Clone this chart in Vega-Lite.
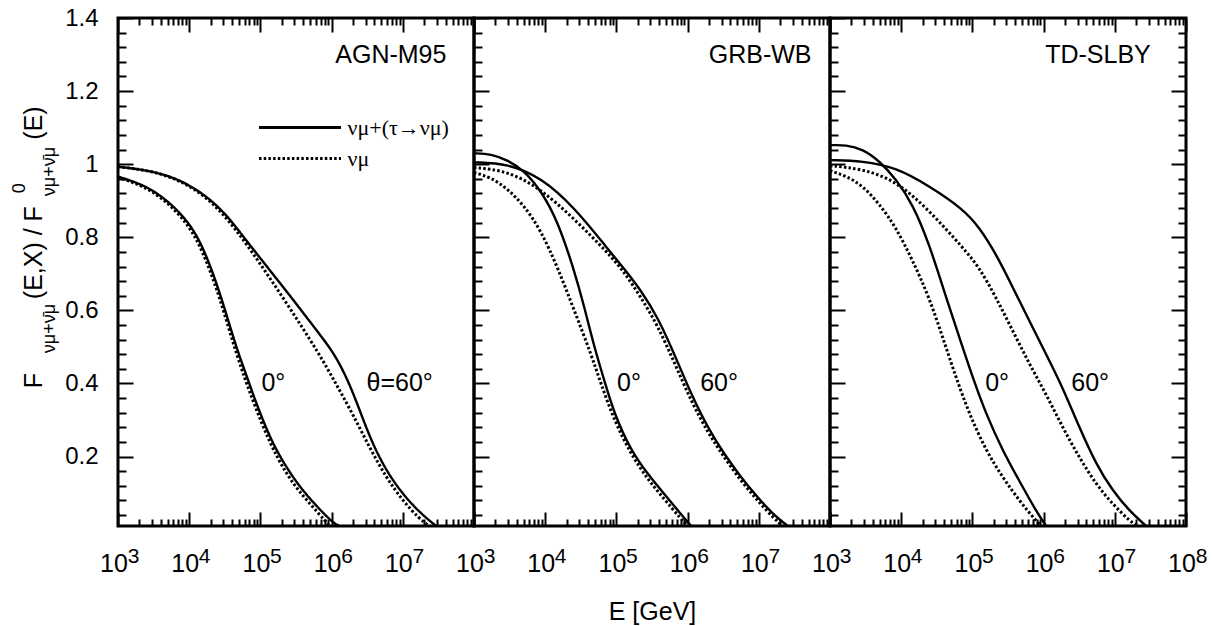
{
"$schema":"https://vega.github.io/schema/vega-lite/v6.json",
"background":"white",
"padding":{"left":9,"top":4,"right":0,"bottom":0},
"bounds":"flush",
"spacing":0,
"config":{
 "font":"Liberation Sans",
 "view":{"stroke":"black","strokeWidth":3},
 "axis":{"grid":false,"domain":false,"tickColor":"black","tickWidth":2,"labelColor":"black","titleColor":"black","labelFont":"Liberation Sans","titleFont":"Liberation Sans","titleFontWeight":"normal","labelFlush":false,"labelOverlap":false,"labelBound":false}
},
"datasets":{
"curves":[
{"panel":"AGN-M95","angle":"60","flux":"νμ+(τ→νμ)","E":1000,"F":0.993},
{"panel":"AGN-M95","angle":"60","flux":"νμ+(τ→νμ)","E":3083,"F":0.982},
{"panel":"AGN-M95","angle":"60","flux":"νμ+(τ→νμ)","E":9057,"F":0.952},
{"panel":"AGN-M95","angle":"60","flux":"νμ+(τ→νμ)","E":26610,"F":0.886},
{"panel":"AGN-M95","angle":"60","flux":"νμ+(τ→νμ)","E":55980,"F":0.805},
{"panel":"AGN-M95","angle":"60","flux":"νμ+(τ→νμ)","E":100000,"F":0.742},
{"panel":"AGN-M95","angle":"60","flux":"νμ+(τ→νμ)","E":230100,"F":0.654},
{"panel":"AGN-M95","angle":"60","flux":"νμ+(τ→νμ)","E":676100,"F":0.535},
{"panel":"AGN-M95","angle":"60","flux":"νμ+(τ→νμ)","E":1159000,"F":0.475},
{"panel":"AGN-M95","angle":"60","flux":"νμ+(τ→νμ)","E":1986000,"F":0.380},
{"panel":"AGN-M95","angle":"60","flux":"νμ+(τ→νμ)","E":3404000,"F":0.252},
{"panel":"AGN-M95","angle":"60","flux":"νμ+(τ→νμ)","E":5834000,"F":0.161},
{"panel":"AGN-M95","angle":"60","flux":"νμ+(τ→νμ)","E":10000000,"F":0.097},
{"panel":"AGN-M95","angle":"60","flux":"νμ+(τ→νμ)","E":17180000,"F":0.047},
{"panel":"AGN-M95","angle":"60","flux":"νμ+(τ→νμ)","E":29440000,"F":0.010},
{"panel":"AGN-M95","angle":"60","flux":"νμ","E":1000,"F":0.993},
{"panel":"AGN-M95","angle":"60","flux":"νμ","E":3083,"F":0.982},
{"panel":"AGN-M95","angle":"60","flux":"νμ","E":9057,"F":0.950},
{"panel":"AGN-M95","angle":"60","flux":"νμ","E":26610,"F":0.882},
{"panel":"AGN-M95","angle":"60","flux":"νμ","E":78340,"F":0.758},
{"panel":"AGN-M95","angle":"60","flux":"νμ","E":230100,"F":0.622},
{"panel":"AGN-M95","angle":"60","flux":"νμ","E":676100,"F":0.480},
{"panel":"AGN-M95","angle":"60","flux":"νμ","E":1159000,"F":0.398},
{"panel":"AGN-M95","angle":"60","flux":"νμ","E":1986000,"F":0.316},
{"panel":"AGN-M95","angle":"60","flux":"νμ","E":3404000,"F":0.225},
{"panel":"AGN-M95","angle":"60","flux":"νμ","E":5834000,"F":0.143},
{"panel":"AGN-M95","angle":"60","flux":"νμ","E":10000000,"F":0.079},
{"panel":"AGN-M95","angle":"60","flux":"νμ","E":17180000,"F":0.029},
{"panel":"AGN-M95","angle":"60","flux":"νμ","E":23710000,"F":0.010},
{"panel":"AGN-M95","angle":"0","flux":"νμ+(τ→νμ)","E":1000,"F":0.966},
{"panel":"AGN-M95","angle":"0","flux":"νμ+(τ→νμ)","E":3083,"F":0.936},
{"panel":"AGN-M95","angle":"0","flux":"νμ+(τ→νμ)","E":9057,"F":0.854},
{"panel":"AGN-M95","angle":"0","flux":"νμ+(τ→νμ)","E":15520,"F":0.777},
{"panel":"AGN-M95","angle":"0","flux":"νμ+(τ→νμ)","E":26610,"F":0.654},
{"panel":"AGN-M95","angle":"0","flux":"νμ+(τ→νμ)","E":45710,"F":0.498},
{"panel":"AGN-M95","angle":"0","flux":"νμ+(τ→νμ)","E":63100,"F":0.425},
{"panel":"AGN-M95","angle":"0","flux":"νμ+(τ→νμ)","E":78340,"F":0.371},
{"panel":"AGN-M95","angle":"0","flux":"νμ+(τ→νμ)","E":134300,"F":0.252},
{"panel":"AGN-M95","angle":"0","flux":"νμ+(τ→νμ)","E":230100,"F":0.170},
{"panel":"AGN-M95","angle":"0","flux":"νμ+(τ→νμ)","E":394500,"F":0.106},
{"panel":"AGN-M95","angle":"0","flux":"νμ+(τ→νμ)","E":676100,"F":0.056},
{"panel":"AGN-M95","angle":"0","flux":"νμ+(τ→νμ)","E":1040000,"F":0.019},
{"panel":"AGN-M95","angle":"0","flux":"νμ+(τ→νμ)","E":1291000,"F":0.010},
{"panel":"AGN-M95","angle":"0","flux":"νμ","E":1000,"F":0.964},
{"panel":"AGN-M95","angle":"0","flux":"νμ","E":3083,"F":0.932},
{"panel":"AGN-M95","angle":"0","flux":"νμ","E":9057,"F":0.847},
{"panel":"AGN-M95","angle":"0","flux":"νμ","E":15520,"F":0.763},
{"panel":"AGN-M95","angle":"0","flux":"νμ","E":26610,"F":0.640},
{"panel":"AGN-M95","angle":"0","flux":"νμ","E":45710,"F":0.480},
{"panel":"AGN-M95","angle":"0","flux":"νμ","E":78340,"F":0.352},
{"panel":"AGN-M95","angle":"0","flux":"νμ","E":134300,"F":0.238},
{"panel":"AGN-M95","angle":"0","flux":"νμ","E":230100,"F":0.152},
{"panel":"AGN-M95","angle":"0","flux":"νμ","E":394500,"F":0.092},
{"panel":"AGN-M95","angle":"0","flux":"νμ","E":676100,"F":0.042},
{"panel":"AGN-M95","angle":"0","flux":"νμ","E":933300,"F":0.010},
{"panel":"GRB-WB","angle":"0","flux":"νμ+(τ→νμ)","E":1000,"F":1.030},
{"panel":"GRB-WB","angle":"0","flux":"νμ+(τ→νμ)","E":1738,"F":1.028},
{"panel":"GRB-WB","angle":"0","flux":"νμ+(τ→νμ)","E":2978,"F":1.011},
{"panel":"GRB-WB","angle":"0","flux":"νμ+(τ→νμ)","E":5104,"F":0.982},
{"panel":"GRB-WB","angle":"0","flux":"νμ+(τ→νμ)","E":8749,"F":0.927},
{"panel":"GRB-WB","angle":"0","flux":"νμ+(τ→νμ)","E":14990,"F":0.845},
{"panel":"GRB-WB","angle":"0","flux":"νμ+(τ→νμ)","E":25710,"F":0.708},
{"panel":"GRB-WB","angle":"0","flux":"νμ+(τ→νμ)","E":35560,"F":0.608},
{"panel":"GRB-WB","angle":"0","flux":"νμ+(τ→νμ)","E":49090,"F":0.498},
{"panel":"GRB-WB","angle":"0","flux":"νμ+(τ→νμ)","E":67920,"F":0.407},
{"panel":"GRB-WB","angle":"0","flux":"νμ+(τ→νμ)","E":93750,"F":0.316},
{"panel":"GRB-WB","angle":"0","flux":"νμ+(τ→νμ)","E":160600,"F":0.216},
{"panel":"GRB-WB","angle":"0","flux":"νμ+(τ→νμ)","E":275400,"F":0.152},
{"panel":"GRB-WB","angle":"0","flux":"νμ+(τ→νμ)","E":472100,"F":0.097},
{"panel":"GRB-WB","angle":"0","flux":"νμ+(τ→νμ)","E":811000,"F":0.042},
{"panel":"GRB-WB","angle":"0","flux":"νμ+(τ→νμ)","E":1120000,"F":0.010},
{"panel":"GRB-WB","angle":"0","flux":"νμ","E":1000,"F":0.977},
{"panel":"GRB-WB","angle":"0","flux":"νμ","E":1738,"F":0.964},
{"panel":"GRB-WB","angle":"0","flux":"νμ","E":2978,"F":0.932},
{"panel":"GRB-WB","angle":"0","flux":"νμ","E":5104,"F":0.886},
{"panel":"GRB-WB","angle":"0","flux":"νμ","E":8749,"F":0.818},
{"panel":"GRB-WB","angle":"0","flux":"νμ","E":14990,"F":0.717},
{"panel":"GRB-WB","angle":"0","flux":"νμ","E":25710,"F":0.599},
{"panel":"GRB-WB","angle":"0","flux":"νμ","E":44160,"F":0.480},
{"panel":"GRB-WB","angle":"0","flux":"νμ","E":60950,"F":0.398},
{"panel":"GRB-WB","angle":"0","flux":"νμ","E":93750,"F":0.298},
{"panel":"GRB-WB","angle":"0","flux":"νμ","E":160600,"F":0.206},
{"panel":"GRB-WB","angle":"0","flux":"νμ","E":275400,"F":0.138},
{"panel":"GRB-WB","angle":"0","flux":"νμ","E":472100,"F":0.083},
{"panel":"GRB-WB","angle":"0","flux":"νμ","E":811000,"F":0.029},
{"panel":"GRB-WB","angle":"0","flux":"νμ","E":1005000,"F":0.010},
{"panel":"GRB-WB","angle":"60","flux":"νμ+(τ→νμ)","E":1000,"F":1.005},
{"panel":"GRB-WB","angle":"60","flux":"νμ+(τ→νμ)","E":2978,"F":1.002},
{"panel":"GRB-WB","angle":"60","flux":"νμ+(τ→νμ)","E":8749,"F":0.964},
{"panel":"GRB-WB","angle":"60","flux":"νμ+(τ→νμ)","E":25710,"F":0.882},
{"panel":"GRB-WB","angle":"60","flux":"νμ+(τ→νμ)","E":75680,"F":0.768},
{"panel":"GRB-WB","angle":"60","flux":"νμ+(τ→νμ)","E":129700,"F":0.713},
{"panel":"GRB-WB","angle":"60","flux":"νμ+(τ→νμ)","E":222300,"F":0.654},
{"panel":"GRB-WB","angle":"60","flux":"νμ+(τ→νμ)","E":381100,"F":0.581},
{"panel":"GRB-WB","angle":"60","flux":"νμ+(τ→νμ)","E":653100,"F":0.480},
{"panel":"GRB-WB","angle":"60","flux":"νμ+(τ→νμ)","E":1120000,"F":0.371},
{"panel":"GRB-WB","angle":"60","flux":"νμ+(τ→νμ)","E":1918000,"F":0.279},
{"panel":"GRB-WB","angle":"60","flux":"νμ+(τ→νμ)","E":3288000,"F":0.206},
{"panel":"GRB-WB","angle":"60","flux":"νμ+(τ→νμ)","E":5636000,"F":0.143},
{"panel":"GRB-WB","angle":"60","flux":"νμ+(τ→νμ)","E":9660000,"F":0.088},
{"panel":"GRB-WB","angle":"60","flux":"νμ+(τ→νμ)","E":16600000,"F":0.038},
{"panel":"GRB-WB","angle":"60","flux":"νμ+(τ→νμ)","E":25520000,"F":0.010},
{"panel":"GRB-WB","angle":"60","flux":"νμ","E":1000,"F":0.991},
{"panel":"GRB-WB","angle":"60","flux":"νμ","E":2978,"F":0.982},
{"panel":"GRB-WB","angle":"60","flux":"νμ","E":8749,"F":0.932},
{"panel":"GRB-WB","angle":"60","flux":"νμ","E":25710,"F":0.850},
{"panel":"GRB-WB","angle":"60","flux":"νμ","E":75680,"F":0.758},
{"panel":"GRB-WB","angle":"60","flux":"νμ","E":129700,"F":0.704},
{"panel":"GRB-WB","angle":"60","flux":"νμ","E":222300,"F":0.635},
{"panel":"GRB-WB","angle":"60","flux":"νμ","E":381100,"F":0.558},
{"panel":"GRB-WB","angle":"60","flux":"νμ","E":653100,"F":0.457},
{"panel":"GRB-WB","angle":"60","flux":"νμ","E":1120000,"F":0.352},
{"panel":"GRB-WB","angle":"60","flux":"νμ","E":1918000,"F":0.266},
{"panel":"GRB-WB","angle":"60","flux":"νμ","E":3288000,"F":0.197},
{"panel":"GRB-WB","angle":"60","flux":"νμ","E":5636000,"F":0.133},
{"panel":"GRB-WB","angle":"60","flux":"νμ","E":9660000,"F":0.079},
{"panel":"GRB-WB","angle":"60","flux":"νμ","E":16600000,"F":0.029},
{"panel":"GRB-WB","angle":"60","flux":"νμ","E":21730000,"F":0.010},
{"panel":"TD-SLBY","angle":"0","flux":"νμ+(τ→νμ)","E":1000,"F":1.052},
{"panel":"TD-SLBY","angle":"0","flux":"νμ+(τ→νμ)","E":1682,"F":1.053},
{"panel":"TD-SLBY","angle":"0","flux":"νμ+(τ→νμ)","E":2883,"F":1.041},
{"panel":"TD-SLBY","angle":"0","flux":"νμ+(τ→νμ)","E":4941,"F":1.009},
{"panel":"TD-SLBY","angle":"0","flux":"νμ+(τ→νμ)","E":8468,"F":0.959},
{"panel":"TD-SLBY","angle":"0","flux":"νμ+(τ→νμ)","E":14510,"F":0.891},
{"panel":"TD-SLBY","angle":"0","flux":"νμ+(τ→νμ)","E":24880,"F":0.781},
{"panel":"TD-SLBY","angle":"0","flux":"νμ+(τ→νμ)","E":42740,"F":0.635},
{"panel":"TD-SLBY","angle":"0","flux":"νμ+(τ→νμ)","E":73250,"F":0.498},
{"panel":"TD-SLBY","angle":"0","flux":"νμ+(τ→νμ)","E":101100,"F":0.416},
{"panel":"TD-SLBY","angle":"0","flux":"νμ+(τ→νμ)","E":155500,"F":0.316},
{"panel":"TD-SLBY","angle":"0","flux":"νμ+(τ→νμ)","E":266600,"F":0.216},
{"panel":"TD-SLBY","angle":"0","flux":"νμ+(τ→νμ)","E":456900,"F":0.133},
{"panel":"TD-SLBY","angle":"0","flux":"νμ+(τ→νμ)","E":784900,"F":0.051},
{"panel":"TD-SLBY","angle":"0","flux":"νμ+(τ→νμ)","E":1084000,"F":0.010},
{"panel":"TD-SLBY","angle":"0","flux":"νμ","E":1000,"F":0.982},
{"panel":"TD-SLBY","angle":"0","flux":"νμ","E":1682,"F":0.968},
{"panel":"TD-SLBY","angle":"0","flux":"νμ","E":2883,"F":0.941},
{"panel":"TD-SLBY","angle":"0","flux":"νμ","E":4941,"F":0.891},
{"panel":"TD-SLBY","angle":"0","flux":"νμ","E":8468,"F":0.827},
{"panel":"TD-SLBY","angle":"0","flux":"νμ","E":14510,"F":0.736},
{"panel":"TD-SLBY","angle":"0","flux":"νμ","E":24880,"F":0.635},
{"panel":"TD-SLBY","angle":"0","flux":"νμ","E":42740,"F":0.498},
{"panel":"TD-SLBY","angle":"0","flux":"νμ","E":59000,"F":0.416},
{"panel":"TD-SLBY","angle":"0","flux":"νμ","E":90740,"F":0.316},
{"panel":"TD-SLBY","angle":"0","flux":"νμ","E":155500,"F":0.216},
{"panel":"TD-SLBY","angle":"0","flux":"νμ","E":266600,"F":0.143},
{"panel":"TD-SLBY","angle":"0","flux":"νμ","E":456900,"F":0.079},
{"panel":"TD-SLBY","angle":"0","flux":"νμ","E":784900,"F":0.024},
{"panel":"TD-SLBY","angle":"0","flux":"νμ","E":922200,"F":0.010},
{"panel":"TD-SLBY","angle":"60","flux":"νμ+(τ→νμ)","E":1000,"F":1.011},
{"panel":"TD-SLBY","angle":"60","flux":"νμ+(τ→νμ)","E":2883,"F":1.009},
{"panel":"TD-SLBY","angle":"60","flux":"νμ+(τ→νμ)","E":8468,"F":0.991},
{"panel":"TD-SLBY","angle":"60","flux":"νμ+(τ→νμ)","E":24880,"F":0.940},
{"panel":"TD-SLBY","angle":"60","flux":"νμ+(τ→νμ)","E":73250,"F":0.878},
{"panel":"TD-SLBY","angle":"60","flux":"νμ+(τ→νμ)","E":125600,"F":0.827},
{"panel":"TD-SLBY","angle":"60","flux":"νμ+(τ→νμ)","E":215100,"F":0.754},
{"panel":"TD-SLBY","angle":"60","flux":"νμ+(τ→νμ)","E":368900,"F":0.663},
{"panel":"TD-SLBY","angle":"60","flux":"νμ+(τ→νμ)","E":632200,"F":0.571},
{"panel":"TD-SLBY","angle":"60","flux":"νμ+(τ→νμ)","E":1084000,"F":0.480},
{"panel":"TD-SLBY","angle":"60","flux":"νμ+(τ→νμ)","E":1857000,"F":0.389},
{"panel":"TD-SLBY","angle":"60","flux":"νμ+(τ→νμ)","E":3183000,"F":0.279},
{"panel":"TD-SLBY","angle":"60","flux":"νμ+(τ→νμ)","E":5455000,"F":0.179},
{"panel":"TD-SLBY","angle":"60","flux":"νμ+(τ→νμ)","E":9350000,"F":0.106},
{"panel":"TD-SLBY","angle":"60","flux":"νμ+(τ→νμ)","E":16060000,"F":0.051},
{"panel":"TD-SLBY","angle":"60","flux":"νμ+(τ→νμ)","E":27530000,"F":0.010},
{"panel":"TD-SLBY","angle":"60","flux":"νμ","E":1000,"F":0.996},
{"panel":"TD-SLBY","angle":"60","flux":"νμ","E":2883,"F":0.987},
{"panel":"TD-SLBY","angle":"60","flux":"νμ","E":8468,"F":0.955},
{"panel":"TD-SLBY","angle":"60","flux":"νμ","E":24880,"F":0.873},
{"panel":"TD-SLBY","angle":"60","flux":"νμ","E":73250,"F":0.772},
{"panel":"TD-SLBY","angle":"60","flux":"νμ","E":125600,"F":0.717},
{"panel":"TD-SLBY","angle":"60","flux":"νμ","E":215100,"F":0.635},
{"panel":"TD-SLBY","angle":"60","flux":"νμ","E":368900,"F":0.544},
{"panel":"TD-SLBY","angle":"60","flux":"νμ","E":632200,"F":0.453},
{"panel":"TD-SLBY","angle":"60","flux":"νμ","E":1084000,"F":0.371},
{"panel":"TD-SLBY","angle":"60","flux":"νμ","E":1857000,"F":0.279},
{"panel":"TD-SLBY","angle":"60","flux":"νμ","E":3183000,"F":0.197},
{"panel":"TD-SLBY","angle":"60","flux":"νμ","E":5455000,"F":0.124},
{"panel":"TD-SLBY","angle":"60","flux":"νμ","E":9350000,"F":0.070},
{"panel":"TD-SLBY","angle":"60","flux":"νμ","E":16060000,"F":0.024},
{"panel":"TD-SLBY","angle":"60","flux":"νμ","E":21030000,"F":0.010}
],
"labels":[
{"panel":"AGN-M95","role":"zero","text":"0°","E":103500,"F":0.4},
{"panel":"AGN-M95","role":"sixty","text":"θ=60°","E":3090000,"F":0.4},
{"panel":"AGN-M95","role":"name","text":"AGN-M95","E":41000000,"F":1.278},
{"panel":"GRB-WB","role":"zero","text":"0°","E":102000,"F":0.4},
{"panel":"GRB-WB","role":"sixty","text":"60°","E":1500000,"F":0.4},
{"panel":"GRB-WB","role":"name","text":"GRB-WB","E":55000000,"F":1.278},
{"panel":"TD-SLBY","role":"zero","text":"0°","E":151000,"F":0.4},
{"panel":"TD-SLBY","role":"sixty","text":"60°","E":2450000,"F":0.4},
{"panel":"TD-SLBY","role":"name","text":"TD-SLBY","E":32000000,"F":1.278}
]
},
"hconcat":[
{
 "width":356,"height":508,
 "resolve":{"axis":{"x":"independent","y":"independent"}},
 "layer":[
  {"data":{"name":"curves"},"transform":[{"filter":"datum.panel==='AGN-M95'&&datum.angle==='0'&&datum.flux!=='νμ'"}],
   "mark":{"type":"line","interpolate":"basis","strokeWidth":2.4,"color":"black"},
   "encoding":{
    "x":{"field":"E","type":"quantitative","scale":{"type":"log","domain":[1000,100000000],"nice":false},
      "axis":{"orient":"bottom","values":[1000,10000,100000,1000000,10000000],"ticks":false,"labelExpr":"'10'","labelFontSize":25,"labelBaseline":"alphabetic","labelPadding":45,"labelOffset":-4.5,"title":null}},
    "y":{"field":"F","type":"quantitative","scale":{"domain":[0.01,1.4],"nice":false,"zero":false},
      "axis":{"orient":"left","values":[0.2,0.4,0.6,0.8,1,1.2,1.4],"ticks":false,"format":".1~f","labelFontSize":24,"labelPadding":20,
        "title":"F","titleFontSize":25,"titleAngle":-90,"titleAlign":"left","titleBaseline":"alphabetic","titleX":-76.8,"titleY":369.7}},
    "strokeDash":{"field":"flux","type":"nominal","scale":{"domain":["νμ+(τ→νμ)","νμ"],"range":[[1,0],[2.5,2.2]]},
      "legend":{"orient":"none","legendX":170.5,"legendY":98,"title":null,"padding":0,"symbolType":"M-4.1,0H4.1","symbolSize":400,"symbolStrokeWidth":3,"symbolStrokeColor":"black","symbolFillColor":"transparent","labelOffset":36,"labelFont":"Liberation Serif","labelFontSize":22,"labelColor":"black","rowPadding":8}}
   }},
  {"data":{"name":"curves"},"transform":[{"filter":"datum.panel==='AGN-M95'&&datum.angle==='60'&&datum.flux!=='νμ'"}],
   "mark":{"type":"line","interpolate":"basis","strokeWidth":2.4,"color":"black"},
   "encoding":{
    "x":{"field":"E","type":"quantitative","scale":{"type":"log","domain":[1000,100000000],"nice":false},
      "axis":{"orient":"bottom","values":[1000,10000,100000,1000000,10000000],"ticks":false,"labelExpr":"''+round(log(datum.value)/LN10)","labelFontSize":21,"labelBaseline":"alphabetic","labelPadding":36.5,"labelOffset":15,"title":null}},
    "y":{"field":"F","type":"quantitative","scale":{"domain":[0.01,1.4],"nice":false,"zero":false},
      "axis":{"orient":"left","values":[0.2,0.4,0.6,0.8,1,1.2,1.4],"tickSize":-15,"labels":false,
        "title":"νμ+ν̄μ","titleFontSize":18,"titleAngle":-90,"titleAlign":"left","titleBaseline":"alphabetic","titleX":-63.5,"titleY":334.7}},
    "strokeDash":{"field":"flux","type":"nominal"}
   }},
  {"data":{"name":"curves"},"transform":[{"filter":"datum.panel==='AGN-M95'&&datum.angle==='0'&&datum.flux==='νμ'"}],
   "mark":{"type":"line","interpolate":"basis","strokeWidth":3,"color":"black"},
   "encoding":{
    "x":{"field":"E","type":"quantitative","scale":{"type":"log","domain":[1000,100000000],"nice":false},
      "axis":{"orient":"bottom","values":[1000,10000,100000,1000000,10000000,100000000],"tickSize":-14,"labels":false,"title":null}},
    "y":{"field":"F","type":"quantitative","scale":{"domain":[0.01,1.4],"nice":false,"zero":false},
      "axis":{"orient":"left","values":[0.04,0.08,0.12,0.16,0.24,0.28,0.32,0.36,0.44,0.48,0.52,0.56,0.64,0.68,0.72,0.76,0.84,0.88,0.92,0.96,1.04,1.08,1.12,1.16,1.24,1.28,1.32,1.36],"tickSize":-8,"labels":false,
        "title":"(E,X)  /  F","titleFontSize":25,"titleAngle":-90,"titleAlign":"left","titleBaseline":"alphabetic","titleX":-76.8,"titleY":280.7}},
    "strokeDash":{"field":"flux","type":"nominal"}
   }},
  {"data":{"name":"curves"},"transform":[{"filter":"datum.panel==='AGN-M95'&&datum.angle==='60'&&datum.flux==='νμ'"}],
   "mark":{"type":"line","interpolate":"basis","strokeWidth":3,"color":"black"},
   "encoding":{
    "x":{"field":"E","type":"quantitative","scale":{"type":"log","domain":[1000,100000000],"nice":false},
      "axis":{"orient":"bottom","values":[2000,3000,4000,5000,6000,7000,8000,9000,20000,30000,40000,50000,60000,70000,80000,90000,200000,300000,400000,500000,600000,700000,800000,900000,2000000,3000000,4000000,5000000,6000000,7000000,8000000,9000000,20000000,30000000,40000000,50000000,60000000,70000000,80000000,90000000],"tickSize":-7,"labels":false,"title":null}},
    "y":{"field":"F","type":"quantitative","scale":{"domain":[0.01,1.4],"nice":false,"zero":false},
      "axis":{"orient":"left","ticks":false,"labels":false,
        "title":"0","titleFontSize":18,"titleAngle":-90,"titleAlign":"left","titleBaseline":"alphabetic","titleX":-93.5,"titleY":174.7}},
    "strokeDash":{"field":"flux","type":"nominal"}
   }},
  {"data":{"name":"labels"},"transform":[{"filter":"datum.panel==='AGN-M95'&&datum.role==='zero'"}],
   "mark":{"type":"text","align":"left","baseline":"middle","fontSize":25,"font":"Liberation Sans","color":"black"},
   "encoding":{
    "x":{"field":"E","type":"quantitative","scale":{"type":"log","domain":[1000,100000000],"nice":false},
      "axis":{"orient":"top","values":[1000,10000,100000,1000000,10000000,100000000],"tickSize":-14,"labels":false,"title":null}},
    "y":{"field":"F","type":"quantitative","scale":{"domain":[0.01,1.4],"nice":false,"zero":false},
      "axis":{"orient":"left","ticks":false,"labels":false,
        "title":"νμ+ν̄μ","titleFontSize":18,"titleAngle":-90,"titleAlign":"left","titleBaseline":"alphabetic","titleX":-63.5,"titleY":177.7}},
    "text":{"field":"text"}
   }},
  {"data":{"name":"labels"},"transform":[{"filter":"datum.panel==='AGN-M95'&&datum.role==='sixty'"}],
   "mark":{"type":"text","align":"left","baseline":"middle","fontSize":25,"font":"Liberation Sans","color":"black"},
   "encoding":{
    "x":{"field":"E","type":"quantitative","scale":{"type":"log","domain":[1000,100000000],"nice":false},
      "axis":{"orient":"top","values":[2000,3000,4000,5000,6000,7000,8000,9000,20000,30000,40000,50000,60000,70000,80000,90000,200000,300000,400000,500000,600000,700000,800000,900000,2000000,3000000,4000000,5000000,6000000,7000000,8000000,9000000,20000000,30000000,40000000,50000000,60000000,70000000,80000000,90000000],"tickSize":-7,"labels":false,"title":null}},
    "y":{"field":"F","type":"quantitative","scale":{"domain":[0.01,1.4],"nice":false,"zero":false},
      "axis":{"orient":"left","ticks":false,"labels":false,
        "title":"(E)","titleFontSize":25,"titleAngle":-90,"titleAlign":"left","titleBaseline":"alphabetic","titleX":-76.8,"titleY":121.2}},
    "text":{"field":"text"}
   }},
  {"data":{"name":"labels"},"transform":[{"filter":"datum.panel==='AGN-M95'&&datum.role==='name'"}],
   "mark":{"type":"text","align":"right","baseline":"alphabetic","fontSize":25,"font":"Liberation Sans","color":"black"},
   "encoding":{
    "x":{"field":"E","type":"quantitative","scale":{"type":"log","domain":[1000,100000000],"nice":false},"axis":null},
    "y":{"field":"F","type":"quantitative","scale":{"domain":[0.01,1.4],"nice":false,"zero":false},"axis":null},
    "text":{"field":"text"}
   }}
 ]
},
{
 "width":356,"height":508,
 "resolve":{"axis":{"x":"independent","y":"independent"}},
 "layer":[
  {"data":{"name":"curves"},"transform":[{"filter":"datum.panel==='GRB-WB'&&datum.angle==='0'&&datum.flux!=='νμ'"}],
   "mark":{"type":"line","interpolate":"basis","strokeWidth":2.4,"color":"black"},
   "encoding":{
    "x":{"field":"E","type":"quantitative","scale":{"type":"log","domain":[1000,100000000],"nice":false},
      "axis":{"orient":"bottom","values":[1000,10000,100000,1000000,10000000],"ticks":false,"labelExpr":"'10'","labelFontSize":25,"labelBaseline":"alphabetic","labelPadding":45,"labelOffset":-4.5,
        "title":"E [GeV]","titleFontSize":25,"titleBaseline":"alphabetic","titleY":93}},
    "y":{"field":"F","type":"quantitative","scale":{"domain":[0.01,1.4],"nice":false,"zero":false},
      "axis":{"orient":"left","values":[0.2,0.4,0.6,0.8,1,1.2,1.4],"tickSize":-15,"labels":false,"title":null}}
   }},
  {"data":{"name":"curves"},"transform":[{"filter":"datum.panel==='GRB-WB'&&datum.angle==='60'&&datum.flux!=='νμ'"}],
   "mark":{"type":"line","interpolate":"basis","strokeWidth":2.4,"color":"black"},
   "encoding":{
    "x":{"field":"E","type":"quantitative","scale":{"type":"log","domain":[1000,100000000],"nice":false},
      "axis":{"orient":"bottom","values":[1000,10000,100000,1000000,10000000],"ticks":false,"labelExpr":"''+round(log(datum.value)/LN10)","labelFontSize":21,"labelBaseline":"alphabetic","labelPadding":36.5,"labelOffset":15,"title":null}},
    "y":{"field":"F","type":"quantitative","scale":{"domain":[0.01,1.4],"nice":false,"zero":false},
      "axis":{"orient":"left","values":[0.04,0.08,0.12,0.16,0.24,0.28,0.32,0.36,0.44,0.48,0.52,0.56,0.64,0.68,0.72,0.76,0.84,0.88,0.92,0.96,1.04,1.08,1.12,1.16,1.24,1.28,1.32,1.36],"tickSize":-8,"labels":false,"title":null}}
   }},
  {"data":{"name":"curves"},"transform":[{"filter":"datum.panel==='GRB-WB'&&datum.angle==='0'&&datum.flux==='νμ'"}],
   "mark":{"type":"line","interpolate":"basis","strokeWidth":3,"strokeDash":[2.5,2.2],"color":"black"},
   "encoding":{
    "x":{"field":"E","type":"quantitative","scale":{"type":"log","domain":[1000,100000000],"nice":false},
      "axis":{"orient":"bottom","values":[1000,10000,100000,1000000,10000000,100000000],"tickSize":-14,"labels":false,"title":null}},
    "y":{"field":"F","type":"quantitative","scale":{"domain":[0.01,1.4],"nice":false,"zero":false},"axis":null}
   }},
  {"data":{"name":"curves"},"transform":[{"filter":"datum.panel==='GRB-WB'&&datum.angle==='60'&&datum.flux==='νμ'"}],
   "mark":{"type":"line","interpolate":"basis","strokeWidth":3,"strokeDash":[2.5,2.2],"color":"black"},
   "encoding":{
    "x":{"field":"E","type":"quantitative","scale":{"type":"log","domain":[1000,100000000],"nice":false},
      "axis":{"orient":"bottom","values":[2000,3000,4000,5000,6000,7000,8000,9000,20000,30000,40000,50000,60000,70000,80000,90000,200000,300000,400000,500000,600000,700000,800000,900000,2000000,3000000,4000000,5000000,6000000,7000000,8000000,9000000,20000000,30000000,40000000,50000000,60000000,70000000,80000000,90000000],"tickSize":-7,"labels":false,"title":null}},
    "y":{"field":"F","type":"quantitative","scale":{"domain":[0.01,1.4],"nice":false,"zero":false},"axis":null}
   }},
  {"data":{"name":"labels"},"transform":[{"filter":"datum.panel==='GRB-WB'&&datum.role==='zero'"}],
   "mark":{"type":"text","align":"left","baseline":"middle","fontSize":25,"font":"Liberation Sans","color":"black"},
   "encoding":{
    "x":{"field":"E","type":"quantitative","scale":{"type":"log","domain":[1000,100000000],"nice":false},
      "axis":{"orient":"top","values":[1000,10000,100000,1000000,10000000,100000000],"tickSize":-14,"labels":false,"title":null}},
    "y":{"field":"F","type":"quantitative","scale":{"domain":[0.01,1.4],"nice":false,"zero":false},"axis":null},
    "text":{"field":"text"}
   }},
  {"data":{"name":"labels"},"transform":[{"filter":"datum.panel==='GRB-WB'&&datum.role==='sixty'"}],
   "mark":{"type":"text","align":"left","baseline":"middle","fontSize":25,"font":"Liberation Sans","color":"black"},
   "encoding":{
    "x":{"field":"E","type":"quantitative","scale":{"type":"log","domain":[1000,100000000],"nice":false},
      "axis":{"orient":"top","values":[2000,3000,4000,5000,6000,7000,8000,9000,20000,30000,40000,50000,60000,70000,80000,90000,200000,300000,400000,500000,600000,700000,800000,900000,2000000,3000000,4000000,5000000,6000000,7000000,8000000,9000000,20000000,30000000,40000000,50000000,60000000,70000000,80000000,90000000],"tickSize":-7,"labels":false,"title":null}},
    "y":{"field":"F","type":"quantitative","scale":{"domain":[0.01,1.4],"nice":false,"zero":false},"axis":null},
    "text":{"field":"text"}
   }},
  {"data":{"name":"labels"},"transform":[{"filter":"datum.panel==='GRB-WB'&&datum.role==='name'"}],
   "mark":{"type":"text","align":"right","baseline":"alphabetic","fontSize":25,"font":"Liberation Sans","color":"black"},
   "encoding":{
    "x":{"field":"E","type":"quantitative","scale":{"type":"log","domain":[1000,100000000],"nice":false},"axis":null},
    "y":{"field":"F","type":"quantitative","scale":{"domain":[0.01,1.4],"nice":false,"zero":false},"axis":null},
    "text":{"field":"text"}
   }}
 ]
},
{
 "width":356,"height":508,
 "resolve":{"axis":{"x":"independent","y":"independent"}},
 "layer":[
  {"data":{"name":"curves"},"transform":[{"filter":"datum.panel==='TD-SLBY'&&datum.angle==='0'&&datum.flux!=='νμ'"}],
   "mark":{"type":"line","interpolate":"basis","strokeWidth":2.4,"color":"black"},
   "encoding":{
    "x":{"field":"E","type":"quantitative","scale":{"type":"log","domain":[1000,100000000],"nice":false},
      "axis":{"orient":"bottom","values":[1000,10000,100000,1000000,10000000,100000000],"ticks":false,"labelExpr":"'10'","labelFontSize":25,"labelBaseline":"alphabetic","labelPadding":45,"labelOffset":-4.5,"title":null}},
    "y":{"field":"F","type":"quantitative","scale":{"domain":[0.01,1.4],"nice":false,"zero":false},
      "axis":{"orient":"left","values":[0.2,0.4,0.6,0.8,1,1.2,1.4],"tickSize":-15,"labels":false,"title":null}}
   }},
  {"data":{"name":"curves"},"transform":[{"filter":"datum.panel==='TD-SLBY'&&datum.angle==='60'&&datum.flux!=='νμ'"}],
   "mark":{"type":"line","interpolate":"basis","strokeWidth":2.4,"color":"black"},
   "encoding":{
    "x":{"field":"E","type":"quantitative","scale":{"type":"log","domain":[1000,100000000],"nice":false},
      "axis":{"orient":"bottom","values":[1000,10000,100000,1000000,10000000,100000000],"ticks":false,"labelExpr":"''+round(log(datum.value)/LN10)","labelFontSize":21,"labelBaseline":"alphabetic","labelPadding":36.5,"labelOffset":15,"title":null}},
    "y":{"field":"F","type":"quantitative","scale":{"domain":[0.01,1.4],"nice":false,"zero":false},
      "axis":{"orient":"left","values":[0.04,0.08,0.12,0.16,0.24,0.28,0.32,0.36,0.44,0.48,0.52,0.56,0.64,0.68,0.72,0.76,0.84,0.88,0.92,0.96,1.04,1.08,1.12,1.16,1.24,1.28,1.32,1.36],"tickSize":-8,"labels":false,"title":null}}
   }},
  {"data":{"name":"curves"},"transform":[{"filter":"datum.panel==='TD-SLBY'&&datum.angle==='0'&&datum.flux==='νμ'"}],
   "mark":{"type":"line","interpolate":"basis","strokeWidth":3,"strokeDash":[2.5,2.2],"color":"black"},
   "encoding":{
    "x":{"field":"E","type":"quantitative","scale":{"type":"log","domain":[1000,100000000],"nice":false},
      "axis":{"orient":"bottom","values":[1000,10000,100000,1000000,10000000,100000000],"tickSize":-14,"labels":false,"title":null}},
    "y":{"field":"F","type":"quantitative","scale":{"domain":[0.01,1.4],"nice":false,"zero":false},
      "axis":{"orient":"right","values":[0.2,0.4,0.6,0.8,1,1.2,1.4],"tickSize":-15,"labels":false,"title":null}}
   }},
  {"data":{"name":"curves"},"transform":[{"filter":"datum.panel==='TD-SLBY'&&datum.angle==='60'&&datum.flux==='νμ'"}],
   "mark":{"type":"line","interpolate":"basis","strokeWidth":3,"strokeDash":[2.5,2.2],"color":"black"},
   "encoding":{
    "x":{"field":"E","type":"quantitative","scale":{"type":"log","domain":[1000,100000000],"nice":false},
      "axis":{"orient":"bottom","values":[2000,3000,4000,5000,6000,7000,8000,9000,20000,30000,40000,50000,60000,70000,80000,90000,200000,300000,400000,500000,600000,700000,800000,900000,2000000,3000000,4000000,5000000,6000000,7000000,8000000,9000000,20000000,30000000,40000000,50000000,60000000,70000000,80000000,90000000],"tickSize":-7,"labels":false,"title":null}},
    "y":{"field":"F","type":"quantitative","scale":{"domain":[0.01,1.4],"nice":false,"zero":false},
      "axis":{"orient":"right","values":[0.04,0.08,0.12,0.16,0.24,0.28,0.32,0.36,0.44,0.48,0.52,0.56,0.64,0.68,0.72,0.76,0.84,0.88,0.92,0.96,1.04,1.08,1.12,1.16,1.24,1.28,1.32,1.36],"tickSize":-8,"labels":false,"title":null}}
   }},
  {"data":{"name":"labels"},"transform":[{"filter":"datum.panel==='TD-SLBY'&&datum.role==='zero'"}],
   "mark":{"type":"text","align":"left","baseline":"middle","fontSize":25,"font":"Liberation Sans","color":"black"},
   "encoding":{
    "x":{"field":"E","type":"quantitative","scale":{"type":"log","domain":[1000,100000000],"nice":false},
      "axis":{"orient":"top","values":[1000,10000,100000,1000000,10000000,100000000],"tickSize":-14,"labels":false,"title":null}},
    "y":{"field":"F","type":"quantitative","scale":{"domain":[0.01,1.4],"nice":false,"zero":false},"axis":null},
    "text":{"field":"text"}
   }},
  {"data":{"name":"labels"},"transform":[{"filter":"datum.panel==='TD-SLBY'&&datum.role==='sixty'"}],
   "mark":{"type":"text","align":"left","baseline":"middle","fontSize":25,"font":"Liberation Sans","color":"black"},
   "encoding":{
    "x":{"field":"E","type":"quantitative","scale":{"type":"log","domain":[1000,100000000],"nice":false},
      "axis":{"orient":"top","values":[2000,3000,4000,5000,6000,7000,8000,9000,20000,30000,40000,50000,60000,70000,80000,90000,200000,300000,400000,500000,600000,700000,800000,900000,2000000,3000000,4000000,5000000,6000000,7000000,8000000,9000000,20000000,30000000,40000000,50000000,60000000,70000000,80000000,90000000],"tickSize":-7,"labels":false,"title":null}},
    "y":{"field":"F","type":"quantitative","scale":{"domain":[0.01,1.4],"nice":false,"zero":false},"axis":null},
    "text":{"field":"text"}
   }},
  {"data":{"name":"labels"},"transform":[{"filter":"datum.panel==='TD-SLBY'&&datum.role==='name'"}],
   "mark":{"type":"text","align":"right","baseline":"alphabetic","fontSize":25,"font":"Liberation Sans","color":"black"},
   "encoding":{
    "x":{"field":"E","type":"quantitative","scale":{"type":"log","domain":[1000,100000000],"nice":false},"axis":null},
    "y":{"field":"F","type":"quantitative","scale":{"domain":[0.01,1.4],"nice":false,"zero":false},"axis":null},
    "text":{"field":"text"}
   }}
 ]
}
]
}
